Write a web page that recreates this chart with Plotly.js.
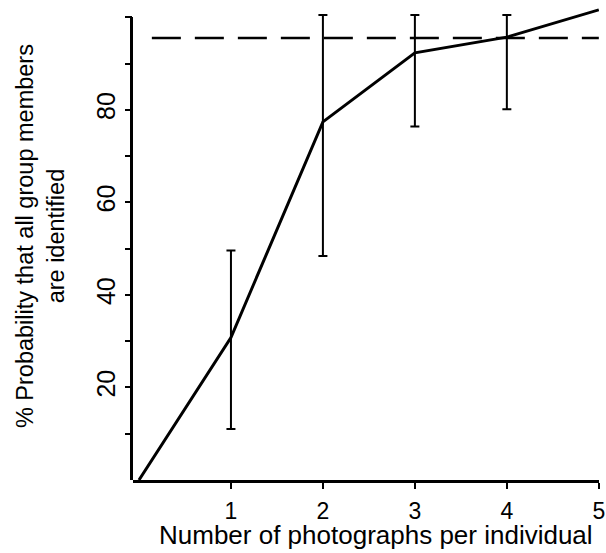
<!DOCTYPE html>
<html>
<head>
<meta charset="utf-8">
<script src="https://cdn.plot.ly/plotly-3.0.1.min.js"></script>
<style>html,body{margin:0;padding:0;background:#fff;}#chart{width:606px;height:553px;}</style>
</head>
<body>
<div id="chart"></div>
<script>
// Data
var photos = [0, 1, 2, 3, 4, 5];
var probability = [0, 30.8, 77.4, 92.3, 95.7, 101.6];
var barPhotos = [1, 2, 3, 4];
var barCentre = [30.8, 77.4, 92.3, 95.7];
var barUpper = [49.6, 100.5, 100.5, 100.5];
var barLower = [11.0, 48.4, 76.4, 80.1];
var thresholdX = [0.14, 5];
var thresholdY = [95.5, 95.5];
var yTickVals = [10, 20, 30, 40, 50, 60, 70, 80, 90, 100];
var yTickText = ['', '20', '', '40', '', '60', '', '80', '', ''];
var xTickVals = [1, 2, 3, 4, 5];
var xTickText = ['1', '2', '3', '4', '5'];

var FONT = 'Liberation Sans, Arial, Helvetica, sans-serif';
var Y_MAX = 102;
var AXIS_TOP = 100;

var upperErr = barUpper.map(function (u, i) { return u - barCentre[i]; });
var lowerErr = barLower.map(function (l, i) { return barCentre[i] - l; });

var traces = [
  {
    x: thresholdX, y: thresholdY, mode: 'lines', type: 'scatter',
    line: {color: '#000', width: 2.5, dash: '29px,14px'},
    hoverinfo: 'skip', showlegend: false
  },
  {
    x: barPhotos, y: barCentre, mode: 'markers', type: 'scatter',
    marker: {size: 1, color: 'rgba(0,0,0,0)'},
    error_y: {type: 'data', symmetric: false, array: upperErr, arrayminus: lowerErr,
              color: '#000', thickness: 2, width: 4.5},
    hoverinfo: 'skip', showlegend: false
  },
  {
    x: photos, y: probability, mode: 'lines', type: 'scatter',
    line: {color: '#000', width: 3},
    showlegend: false
  },
  {
    // empty trace that only carries the drawn y-axis line (0..100)
    x: [], y: [], type: 'scatter', mode: 'lines', yaxis: 'y2',
    hoverinfo: 'skip', showlegend: false
  }
];

var layout = {
  width: 606, height: 553,
  margin: {l: 133, r: 7, t: 8, b: 73, pad: 0},
  paper_bgcolor: '#fff', plot_bgcolor: 'rgba(0,0,0,0)',
  font: {family: FONT, color: '#000'},
  showlegend: false,
  xaxis: {
    range: [-0.065, 5.002],
    tickvals: xTickVals, ticktext: xTickText,
    ticks: 'outside', ticklen: 6, tickwidth: 2, tickcolor: '#000',
    showline: true, linewidth: 3, linecolor: '#000',
    showgrid: false, zeroline: false,
    tickfont: {size: 23, family: FONT, color: '#000'},
    ticklabelstandoff: 2,
    ticklabeloverflow: 'allow'
  },
  yaxis: {
    range: [0, Y_MAX],
    domain: [0, 1],
    tickvals: yTickVals, ticktext: yTickText,
    tickangle: -90,
    ticks: 'outside', ticklen: 7, tickwidth: 2, tickcolor: '#000',
    showline: false,
    showgrid: false, zeroline: false,
    tickfont: {size: 25, family: FONT, color: '#000'}
  },
  yaxis2: {
    anchor: 'x',
    domain: [0, AXIS_TOP / Y_MAX],
    range: [0, AXIS_TOP],
    showline: true, linewidth: 3, linecolor: '#000',
    showticklabels: false, ticks: '',
    showgrid: false, zeroline: false
  },
  annotations: [
    {text: 'Number of photographs per individual', xref: 'paper', yref: 'paper',
     x: 0.5213, y: -0.1535, xanchor: 'center', yanchor: 'bottom', showarrow: false,
     font: {size: 26, family: FONT, color: '#000'}},
    {text: '% Probability that all group members<br>are identified', xref: 'paper', yref: 'paper',
     x: -0.1972, y: 0.517, xanchor: 'center', yanchor: 'middle', showarrow: false,
     textangle: -90,
     font: {size: 23.5, family: FONT, color: '#000'}}
  ]
};

Plotly.newPlot('chart', traces, layout, {displayModeBar: false, staticPlot: true});
</script>
</body>
</html>
